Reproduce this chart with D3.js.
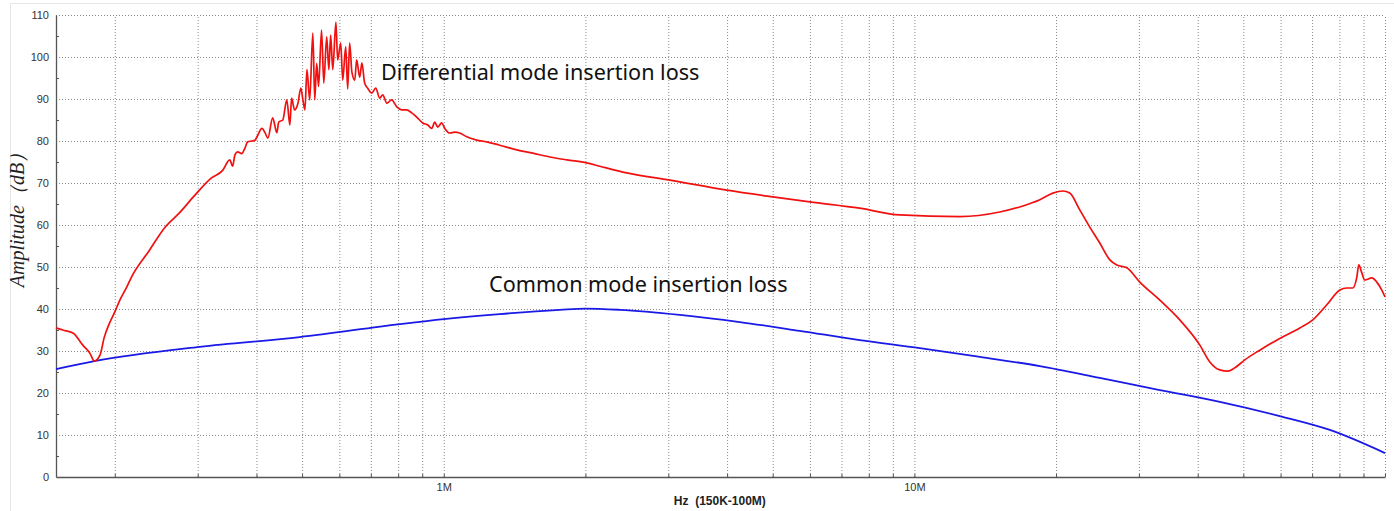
<!DOCTYPE html>
<html>
<head>
<meta charset="utf-8">
<script src="https://cdn.jsdelivr.net/npm/d3@7"></script>
<style>
  body { margin: 0; background: #fff; }
  svg { display: block; }
  .grid line { stroke: #8a8a8a; stroke-dasharray: 1,2; }
  .grid path { display: none; }
  .axis text { font-family: "Liberation Sans", Arial, sans-serif; font-size: 11px; fill: #333; }
  .note { font-family: "Noto Sans", sans-serif; font-size: 21.6px; fill: #111; }
</style>
</head>
<body>
<div id="chart"></div>
<script>
// frequencies in MHz, values in dB
var dmFreq = [0.150, 0.155, 0.163, 0.171, 0.177, 0.181, 0.186, 0.190, 0.195, 0.200, 0.205, 0.212, 0.217,
  0.237, 0.255, 0.275, 0.296, 0.321, 0.339, 0.351, 0.356, 0.360, 0.365, 0.372, 0.378, 0.383, 0.391,
  0.397, 0.401, 0.411, 0.417, 0.423, 0.433, 0.442, 0.446, 0.455, 0.464, 0.471, 0.475, 0.482, 0.490,
  0.497, 0.502, 0.507, 0.512, 0.519, 0.527, 0.532, 0.537, 0.542, 0.550, 0.556, 0.564, 0.570, 0.575,
  0.581, 0.590, 0.595, 0.604, 0.610, 0.619, 0.625, 0.631, 0.638, 0.647, 0.653, 0.663, 0.670, 0.679,
  0.689, 0.703, 0.717, 0.731, 0.742, 0.757, 0.775, 0.795, 0.814, 0.834, 0.855, 0.876, 0.902, 0.925,
  0.943, 0.957, 0.971, 0.990, 1.005, 1.030, 1.055, 1.081, 1.119, 1.175, 1.234, 1.315, 1.429, 1.546,
  1.680, 1.826, 2.013, 2.145, 2.448, 3.022, 3.994, 5.002, 5.995, 7.656, 9.312, 12.49, 15.19, 16.75,
  18.48, 19.69, 20.68, 21.39, 22.46, 23.59, 24.77, 26.02, 26.92, 28.28, 30.13, 33.23, 36.64, 40.42,
  42.44, 44.57, 46.35, 47.97, 50.37, 54.20, 59.77, 65.92, 70.25, 75.22, 80.17, 82.95, 85.43, 87.12,
  87.97, 89.27, 90.60, 93.76, 96.08, 98.45, 100]
var dmLoss = [35.5, 35, 34.3, 31.4, 29.5, 27.6, 29, 33.3, 36.7, 39.3, 42.1, 45.2, 47.6,
  54, 59.3, 63, 67.1, 71.2, 73, 75.5, 74, 76.7, 77.4, 77, 78.3, 79.8, 80,
  80.2, 81, 83, 82, 80.7, 85.5, 82, 84.5, 85, 89.8, 83.8, 90.2, 87.4, 89,
  92.6, 89.8, 87.4, 97, 89.8, 105.7, 89.8, 98.5, 93, 106.4, 93.8, 104.8, 97, 105.2,
  97, 108.3, 99.3, 103.3, 94.5, 102.4, 92.4, 103.3, 96.4, 94.5, 99.3, 95.2, 98.6, 93.8,
  92.6, 91.4, 92.6, 90.2, 91, 89, 89.8, 88.1, 87.4, 87.4, 86.7, 85.7, 84.3, 83.8,
  83, 84.5, 83.3, 84.3, 83, 81.9, 82.1, 81.9, 81, 80.2, 79.8, 79, 77.9, 77.1,
  76.2, 75.5, 74.8, 74, 72.4, 70.7, 68.3, 66.7, 65.5, 64, 62.4, 62, 63.1, 64.3,
  66, 67.6, 68.1, 67.6, 63.6, 59.5, 55.7, 51.7, 50.5, 49.8, 46.4, 42.1, 37.4, 31.4,
  27.4, 25.5, 25.2, 26, 27.9, 30.2, 33, 35.5, 37.4, 41, 44.5, 45, 45, 47.6,
  50.5, 48.6, 46.9, 47.4, 46.4, 44.5, 42.9]

var cmFreq = [0.150, 0.181, 0.303, 0.494, 0.806, 1.0, 1.315, 1.764, 2.0, 2.366, 3.174, 4.256, 5.707,
  7.656, 10.27, 13.77, 18.48, 24.77, 33.23, 44.57, 59.77, 76.35, 100]
var cmLoss = [25.7, 27.6, 31, 33.3, 36.4, 37.6, 38.8, 39.8, 40.1, 39.8, 38.6, 36.9, 34.8,
  32.6, 30.7, 28.6, 26.4, 23.6, 20.7, 17.9, 14.5, 11.2, 5.7]

var yTicks = [0, 10, 20, 30, 40, 50, 60, 70, 80, 90, 100, 110]
var xLabels = [{ f: 1, text: '1M' }, { f: 10, text: '10M' }]
var xGridFreq = [0.2, 0.3, 0.4, 0.5, 0.6, 0.7, 0.8, 0.9, 1, 2, 3, 4, 5, 6, 7, 8, 9, 10,
  20, 30, 40, 50, 60, 70, 80, 90, 100]

var width = 1394
var height = 511
var margin = { top: 15, right: 9, bottom: 34, left: 56 }

var svg = d3.select('#chart')
  .append('svg')
  .attr('width', width)
  .attr('height', height)

// faint panel border
svg.append('rect')
  .attr('x', 10.5).attr('y', 3.5)
  .attr('width', width).attr('height', height)
  .style('fill', 'none')
  .style('stroke', '#e6e6e6')

var xScale = d3.scaleLog()
  .domain([0.15, 100])
  .range([margin.left, width - margin.right])

var yScale = d3.scaleLinear()
  .domain([0, 110])
  .range([height - margin.bottom, margin.top])

var plotW = width - margin.right - margin.left
var plotH = height - margin.bottom - margin.top

// grid
svg.append('g')
  .attr('class', 'grid')
  .attr('transform', `translate(${margin.left},0)`)
  .call(d3.axisLeft(yScale).tickValues(yTicks.slice(1)).tickSize(-plotW).tickFormat(''))

svg.append('g')
  .attr('class', 'grid')
  .attr('transform', `translate(0,${height - margin.bottom})`)
  .call(d3.axisBottom(xScale).tickValues(xGridFreq).tickSize(-plotH).tickFormat(''))

// Y axis
var yAxisG = svg.append('g')
  .attr('class', 'axis')
  .attr('transform', `translate(${margin.left},0)`)
  .call(d3.axisLeft(yScale).tickValues(yTicks).tickSize(0).tickPadding(7))
yAxisG.select('.domain').style('stroke', '#555').style('stroke-width', 1.3)

// minor inside ticks on Y
svg.append('g')
  .attr('transform', `translate(${margin.left},0)`)
  .call(d3.axisRight(yScale).tickValues(d3.range(5, 110, 10)).tickSize(3).tickFormat(''))
  .call(g => g.select('.domain').remove())
  .selectAll('line').style('stroke', '#555')

// X axis
var xAxisG = svg.append('g')
  .attr('class', 'axis')
  .attr('transform', `translate(0,${height - margin.bottom})`)
  .call(d3.axisBottom(xScale).tickValues(xLabels.map(d => d.f)).tickSize(0).tickPadding(6)
    .tickFormat((d, i) => xLabels[i].text))
xAxisG.select('.domain').style('stroke', '#555').style('stroke-width', 1.3)

svg.append('g')
  .attr('transform', `translate(0,${height - margin.bottom})`)
  .call(d3.axisTop(xScale).tickValues(xGridFreq).tickSize(3).tickFormat(''))
  .call(g => g.select('.domain').remove())
  .selectAll('line').style('stroke', '#555')

// axis titles
svg.append('text')
  .attr('x', xScale(3.86))
  .attr('y', 505)
  .attr('text-anchor', 'middle')
  .style('font-family', '"Liberation Sans", Arial, sans-serif')
  .style('font-size', '12px')
  .style('font-weight', 'bold')
  .style('fill', '#222')
  .attr('xml:space', 'preserve')
  .text('Hz  (150K-100M)')

svg.append('text')
  .attr('transform', 'translate(24,215) rotate(-90)')
  .attr('text-anchor', 'middle')
  .style('font-family', '"Liberation Serif", "Times New Roman", serif')
  .style('font-style', 'italic')
  .style('font-size', '20px')
  .style('fill', '#222')
  .text('Amplitude（dB）')

// lines
var line = d3.line()
  .curve(d3.curveMonotoneX)
  .x(d => xScale(d[0]))
  .y(d => yScale(d[1]))

svg.append('path')
  .datum(cmFreq.map((f, i) => [f, cmLoss[i]]))
  .attr('d', line)
  .style('fill', 'none')
  .style('stroke', '#1a1ae6')
  .style('stroke-width', 1.8)

svg.append('path')
  .datum(dmFreq.map((f, i) => [f, dmLoss[i]]))
  .attr('d', line)
  .style('fill', 'none')
  .style('stroke', '#f01010')
  .style('stroke-width', 1.7)

// annotations
svg.append('text')
  .attr('class', 'note')
  .attr('x', 381)
  .attr('y', 80)
  .text('Differential mode insertion loss')

svg.append('text')
  .attr('class', 'note')
  .attr('x', 489)
  .attr('y', 292)
  .text('Common mode insertion loss')
</script>
</body>
</html>
